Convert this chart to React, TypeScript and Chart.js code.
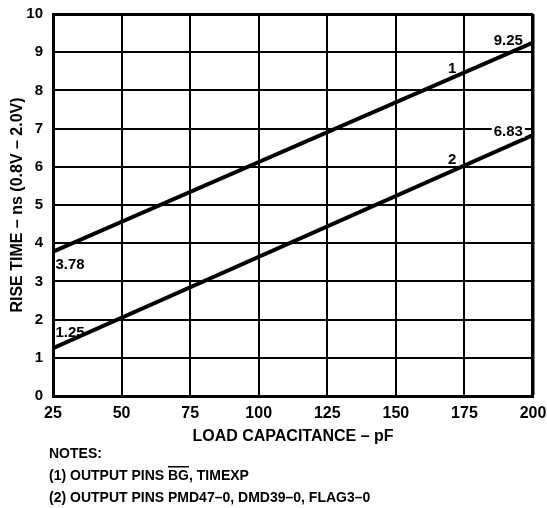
import React, { useEffect, useRef } from "react";
import { Chart, registerables } from "chart.js";

Chart.register(...registerables);

// ---- data ----
const loadCapacitance = [25, 200];
const riseTimeCurve1 = [3.78, 9.25];
const riseTimeCurve2 = [1.25, 6.83];
const curveNames = ["1", "2"];
const xTickValues = [25, 50, 75, 100, 125, 150, 175, 200];
const yTickValues = [0, 1, 2, 3, 4, 5, 6, 7, 8, 9, 10];
const xTitle = "LOAD CAPACITANCE – pF";
const yTitle = "RISE TIME – ns (0.8V – 2.0V)";
const noteLines = ["NOTES:", "(1) OUTPUT PINS ", "(2) OUTPUT PINS PMD47–0, DMD39–0, FLAG3–0"];
const overlinedPin = "BG";
const note1Tail = ", TIMEXP";

// text annotations, anchored in data coordinates
const annotationTexts = ["9.25", "6.83", "1", "2", "3.78", "1.25"];
const annotationX = [191.0, 191.0, 170.5, 170.5, 31.2, 31.2];
const annotationY = [9.32, 6.95, 8.59, 6.2, 3.46, 1.68];
const annotationBoxed = [false, true, false, false, false, false];

const FONT = "'Liberation Sans', Arial, Helvetica, sans-serif";

export default function App() {
  const ref = useRef<HTMLCanvasElement | null>(null);

  useEffect(() => {
    const canvas = ref.current;
    if (!canvas) return;

    const labelPlugin = {
      id: "labels",
      afterDatasetsDraw(chart: any) {
        const { ctx, scales } = chart;
        const xs = scales.x;
        const ys = scales.y;
        ctx.save();
        ctx.font = `bold 15px ${FONT}`;
        ctx.textAlign = "center";
        ctx.textBaseline = "middle";
        annotationTexts.forEach((t, i) => {
          const px = xs.getPixelForValue(annotationX[i]);
          const py = ys.getPixelForValue(annotationY[i]);
          const w = ctx.measureText(t).width;
          if (annotationBoxed[i]) {
            ctx.fillStyle = "#fff";
            ctx.fillRect(px - w / 2 - 2, py - 7, w + 4, 14);
          }
          ctx.fillStyle = "#000";
          ctx.fillText(t, px, py + 1);
        });
        ctx.restore();
      },
      afterDraw(chart: any) {
        const { ctx } = chart;
        ctx.save();
        ctx.font = `bold 14px ${FONT}`;
        ctx.fillStyle = "#000";
        ctx.textAlign = "left";
        ctx.textBaseline = "middle";
        const left = 49;
        const ys = [454, 476, 498];
        ctx.fillText(noteLines[0], left, ys[0]);
        ctx.fillText(noteLines[1], left, ys[1]);
        const w1 = ctx.measureText(noteLines[1]).width;
        ctx.fillText(overlinedPin, left + w1, ys[1]);
        const w2 = ctx.measureText(overlinedPin).width;
        ctx.fillText(note1Tail, left + w1 + w2, ys[1]);
        ctx.fillRect(left + w1, ys[1] - 10, w2, 1.5);
        ctx.fillText(noteLines[2], left, ys[2]);
        ctx.restore();
      },
    };

    const chart = new Chart(canvas, {
      type: "line",
      data: {
        datasets: [
          {
            label: curveNames[0],
            data: loadCapacitance.map((x, i) => ({ x, y: riseTimeCurve1[i] })),
            borderColor: "#000",
            borderWidth: 4,
            pointRadius: 0,
            fill: false,
          },
          {
            label: curveNames[1],
            data: loadCapacitance.map((x, i) => ({ x, y: riseTimeCurve2[i] })),
            borderColor: "#000",
            borderWidth: 4,
            pointRadius: 0,
            fill: false,
          },
        ],
      },
      options: {
        animation: false,
        responsive: false,
        events: [],
        layout: { padding: { top: 14, right: 14, left: 0, bottom: 0 } },
        plugins: { legend: { display: false }, tooltip: { enabled: false } },
        scales: {
          x: {
            type: "linear",
            min: xTickValues[0],
            max: xTickValues[xTickValues.length - 1],
            afterBuildTicks: (s: any) => {
              s.ticks = xTickValues.map((v) => ({ value: v }));
            },
            afterFit: (s: any) => {
              s.height = 112;
              s.paddingLeft = 0;
              s.paddingRight = 0;
            },
            grid: {
              color: "#000",
              lineWidth: (c: any) => (c.tick && c.tick.value === 200 ? 3.5 : 2),
              drawTicks: false,
            },
            border: { color: "#000", width: 3 },
            ticks: {
              color: "#000",
              padding: 8,
              font: { family: FONT, size: 16, weight: "bold" },
            },
            title: {
              display: true,
              text: xTitle,
              color: "#000",
              font: { family: FONT, size: 16, weight: "bold" },
              padding: { top: 0, bottom: 62 },
            },
          },
          y: {
            type: "linear",
            min: yTickValues[0],
            max: yTickValues[yTickValues.length - 1],
            afterBuildTicks: (s: any) => {
              s.ticks = yTickValues.map((v) => ({ value: v }));
            },
            afterFit: (s: any) => {
              s.width = 53;
              s.paddingTop = 0;
              s.paddingBottom = 0;
            },
            grid: {
              color: "#000",
              lineWidth: (c: any) => (c.tick && c.tick.value === 10 ? 3 : 2),
              drawTicks: false,
            },
            border: { color: "#000", width: 3 },
            ticks: {
              color: "#000",
              padding: 10,
              font: { family: FONT, size: 15, weight: "bold" },
            },
            title: {
              display: true,
              text: yTitle,
              color: "#000",
              font: { family: FONT, size: 16, weight: "bold" },
              padding: { top: 8, bottom: 0 },
            },
          },
        },
      },
      plugins: [labelPlugin],
    } as any);

    return () => chart.destroy();
  }, []);

  return (
    <div style={{ position: "absolute", left: 0, top: 0, width: 547, height: 508, background: "#fff" }}>
      <canvas ref={ref} width={547} height={508} style={{ display: "block" }} />
    </div>
  );
}
